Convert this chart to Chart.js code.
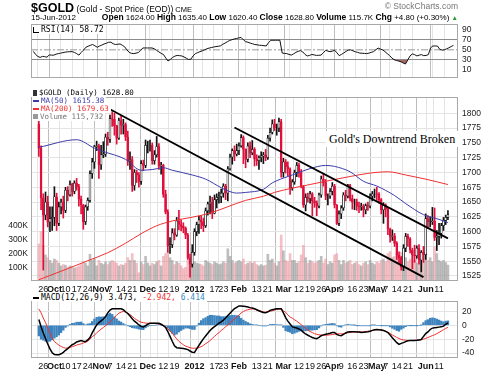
<!DOCTYPE html>
<html><head><meta charset="utf-8">
<script src="https://cdn.jsdelivr.net/npm/chart.js@4.4.1/dist/chart.umd.min.js"></script>
<style>
html,body{margin:0;padding:0;background:#fff;}
body{width:489px;height:371px;position:relative;overflow:hidden;font-family:"Liberation Sans",Arial,sans-serif;color:#000;}
.abs{position:absolute;white-space:nowrap;}
canvas{position:absolute;left:0;}
.leg{background:#fff;font-family:"DejaVu Sans Mono",monospace;font-size:7.5px;line-height:8px;padding:0 2px 0 1px;}
.ic{display:inline-block;vertical-align:middle;margin-right:2px;}
</style></head><body>
<canvas id="rsi" width="489" height="73" style="top:14px"></canvas>
<canvas id="price" width="489" height="205" style="top:88px"></canvas>
<canvas id="macd" width="489" height="79" style="top:292px"></canvas>

<div class="abs" style="left:31px;top:0px;line-height:13px;">
  <span style="font-size:12.5px;font-weight:bold">$GOLD</span><span style="font-size:8.5px"> (Gold - Spot Price (EOD))</span><span style="font-size:7.5px"> CME</span>
</div>
<div class="abs" style="right:31px;top:1px;font-size:8.5px;line-height:11px;color:#777">© StockCharts.com</div>
<div class="abs" style="left:31px;top:12px;font-size:8px;line-height:11px">15-Jun-2012</div>
<div class="abs" style="right:31px;top:12px;font-size:8px;line-height:11px"><b style="font-size:8.5px">Open</b> 1624.00 <b style="font-size:8.5px">High</b> 1635.40 <b style="font-size:8.5px">Low</b> 1620.40 <b style="font-size:8.5px">Close</b> 1628.80 <b style="font-size:8.5px">Volume</b> 115.7K <b style="font-size:8.5px">Chg</b> +4.80 (+0.30%) <span style="color:#2a9a2a;font-size:6.5px">▲</span></div>

<div class="abs leg" style="left:32px;top:25px;font-size:8px;line-height:9px;"><span class="ic" style="width:5px;height:5px;border-left:1px solid #000;border-bottom:1px solid #000"></span>RSI(14) 58.72</div>

<div class="abs leg" style="left:32px;top:89px;"><span class="ic" style="width:4px;height:6px;background:#333"></span>$GOLD (Daily) 1628.80</div>
<div class="abs leg" style="left:32px;top:97px;color:#3b3bab"><span class="ic" style="width:6px;height:2px;background:#3b3bab"></span>MA(50) 1615.38</div>
<div class="abs leg" style="left:32px;top:105px;color:#f03030"><span class="ic" style="width:6px;height:2px;background:#f03030"></span>MA(200) 1679.63</div>
<div class="abs leg" style="left:32px;top:113px;color:#777"><span class="ic" style="width:5px;height:5px;background:#999"></span>Volume 115,732</div>

<div class="abs" style="left:326px;top:131px;background:#fff;padding:1px 3px;font-family:'Liberation Serif',serif;font-size:12px;line-height:14px;">Gold's Downtrend Broken</div>

<div class="abs leg" style="left:32px;top:293px;font-size:8px;line-height:9px;"><span class="ic" style="width:6px;height:2px;background:#000"></span>MACD(12,26,9) 3.473, <span style="color:#f03030">-2.942,</span> <span style="color:#3d88c4">6.414</span></div>

<script>
const dates = [
'2011-09-22','2011-09-23','2011-09-26','2011-09-27','2011-09-28','2011-09-29','2011-09-30',
'2011-10-03','2011-10-04','2011-10-05','2011-10-06','2011-10-07','2011-10-10','2011-10-11','2011-10-12','2011-10-13','2011-10-14','2011-10-17','2011-10-18','2011-10-19','2011-10-20','2011-10-21','2011-10-24','2011-10-25','2011-10-26','2011-10-27','2011-10-28','2011-10-31',
'2011-11-01','2011-11-02','2011-11-03','2011-11-04','2011-11-07','2011-11-08','2011-11-09','2011-11-10','2011-11-11','2011-11-14','2011-11-15','2011-11-16','2011-11-17','2011-11-18','2011-11-21','2011-11-22','2011-11-23','2011-11-25','2011-11-28','2011-11-29','2011-11-30',
'2011-12-01','2011-12-02','2011-12-05','2011-12-06','2011-12-07','2011-12-08','2011-12-09','2011-12-12','2011-12-13','2011-12-14','2011-12-15','2011-12-16','2011-12-19','2011-12-20','2011-12-21','2011-12-22','2011-12-23','2011-12-27','2011-12-28','2011-12-29','2011-12-30',
'2012-01-03','2012-01-04','2012-01-05','2012-01-06','2012-01-09','2012-01-10','2012-01-11','2012-01-12','2012-01-13','2012-01-17','2012-01-18','2012-01-19','2012-01-20','2012-01-23','2012-01-24','2012-01-25','2012-01-26','2012-01-27','2012-01-30','2012-01-31',
'2012-02-01','2012-02-02','2012-02-03','2012-02-06','2012-02-07','2012-02-08','2012-02-09','2012-02-10','2012-02-13','2012-02-14','2012-02-15','2012-02-16','2012-02-17','2012-02-21','2012-02-22','2012-02-23','2012-02-24','2012-02-27','2012-02-28','2012-02-29',
'2012-03-01','2012-03-02','2012-03-05','2012-03-06','2012-03-07','2012-03-08','2012-03-09','2012-03-12','2012-03-13','2012-03-14','2012-03-15','2012-03-16','2012-03-19','2012-03-20','2012-03-21','2012-03-22','2012-03-23','2012-03-26','2012-03-27','2012-03-28','2012-03-29','2012-03-30',
'2012-04-02','2012-04-03','2012-04-04','2012-04-05','2012-04-09','2012-04-10','2012-04-11','2012-04-12','2012-04-13','2012-04-16','2012-04-17','2012-04-18','2012-04-19','2012-04-20','2012-04-23','2012-04-24','2012-04-25','2012-04-26','2012-04-27','2012-04-30',
'2012-05-01','2012-05-02','2012-05-03','2012-05-04','2012-05-07','2012-05-08','2012-05-09','2012-05-10','2012-05-11','2012-05-14','2012-05-15','2012-05-16','2012-05-17','2012-05-18','2012-05-21','2012-05-22','2012-05-23','2012-05-24','2012-05-25','2012-05-29','2012-05-30','2012-05-31',
'2012-06-01','2012-06-04','2012-06-05','2012-06-06','2012-06-07','2012-06-08','2012-06-11','2012-06-12','2012-06-13','2012-06-14','2012-06-15'];

const opens = [1782,1741,1657,1628,1650,1616,1622,1624,1659,1614,
1642,1650,1636,1670,1662,1680,1668,1682,1676,1655,
1645,1617,1642,1653,1698,1718,1744,1745,1713,1730,
1731,1760,1756,1791,1790,1779,1758,1788,1780,1781,
1760,1720,1722,1678,1700,1696,1685,1715,1712,1746,
1746,1746,1720,1730,1744,1711,1712,1663,1633,1576,
1578,1598,1594,1618,1612,1609,1606,1594,1555,1545,
1565,1600,1612,1620,1617,1610,1635,1647,1650,1631,
1654,1658,1659,1665,1677,1665,1706,1726,1737,1731,
1737,1745,1759,1739,1722,1745,1733,1739,1723,1720,
1725,1728,1730,1725,1758,1768,1782,1775,1775,1786,
1700,1718,1710,1706,1674,1684,1700,1712,1700,1676,
1645,1658,1656,1664,1652,1648,1643,1662,1689,1683,
1660,1660,1668,1677,1645,1614,1630,1640,1662,1660,
1678,1656,1650,1650,1643,1642,1643,1637,1644,1643,
1660,1664,1664,1663,1654,1637,1645,1638,1604,1592,
1593,1580,1560,1556,1540,1572,1592,1588,1569,1560,
1559,1572,1552,1565,1561,1622,1617,1617,1618,1590,
1592,1597,1610,1619,1624];
const highs = [1790,1745,1664,1667,1660,1642,1642,1676,1665,1650,
1655,1660,1675,1676,1686,1682,1686,1690,1680,1660,
1646,1645,1657,1703,1724,1746,1753,1748,1746,1752,
1765,1768,1797,1803,1800,1780,1792,1795,1790,1784,
1770,1735,1727,1705,1704,1700,1720,1721,1755,1753,
1755,1750,1737,1761,1749,1717,1714,1670,1637,1590,
1605,1605,1624,1636,1620,1615,1608,1597,1562,1578,
1605,1616,1626,1627,1623,1640,1650,1660,1658,1662,
1664,1667,1672,1681,1680,1710,1731,1740,1745,1748,
1750,1764,1762,1740,1750,1752,1754,1742,1730,1728,
1735,1734,1739,1763,1775,1789,1790,1782,1792,1790,
1724,1722,1718,1708,1688,1704,1717,1716,1705,1678,
1664,1665,1668,1666,1658,1652,1665,1694,1697,1688,
1664,1673,1683,1680,1646,1635,1644,1666,1670,1680,
1680,1662,1655,1655,1650,1648,1646,1647,1650,1664,
1668,1672,1675,1666,1656,1649,1647,1640,1606,1603,
1597,1583,1566,1558,1578,1597,1596,1590,1572,1577,
1576,1578,1568,1575,1630,1627,1625,1641,1640,1602,
1614,1614,1624,1628,1635.4];
const lows = [1727,1637,1535,1620,1608,1600,1602,1610,1602,1610,
1630,1623,1632,1652,1660,1660,1664,1670,1643,1630,
1604,1612,1636,1650,1690,1707,1737,1690,1705,1725,
1727,1746,1751,1778,1763,1748,1756,1765,1765,1754,
1712,1705,1668,1670,1683,1675,1680,1703,1708,1733,
1736,1714,1714,1726,1705,1697,1658,1630,1565,1563,
1573,1586,1592,1603,1601,1598,1588,1553,1523,1540,
1560,1593,1597,1605,1600,1607,1628,1630,1622,1630,
1640,1648,1649,1658,1654,1652,1704,1714,1720,1728,
1730,1743,1715,1708,1718,1725,1730,1711,1712,1705,
1718,1715,1720,1722,1753,1765,1771,1763,1769,1692,
1692,1699,1694,1663,1670,1680,1693,1692,1674,1641,
1635,1650,1648,1627,1641,1627,1640,1658,1677,1654,
1645,1656,1662,1640,1612,1610,1622,1636,1652,1657,
1652,1638,1637,1636,1632,1636,1625,1630,1636,1640,
1652,1657,1653,1648,1630,1614,1625,1595,1582,1585,
1575,1553,1546,1535,1534,1566,1575,1564,1537,1548,
1555,1545,1532,1548,1553,1605,1608,1612,1585,1568,
1578,1589,1602,1612,1620.4];
const closes = [1741,1657,1628,1650,1616,1622,1624,1659,1614,1642,
1650,1636,1670,1662,1680,1668,1682,1676,1655,1645,
1617,1642,1653,1698,1718,1744,1745,1713,1730,1731,
1760,1756,1791,1790,1779,1758,1788,1780,1781,1760,
1720,1722,1678,1700,1696,1685,1715,1712,1746,1746,
1746,1720,1730,1744,1711,1712,1663,1633,1576,1578,
1598,1594,1618,1612,1609,1606,1594,1555,1545,1565,
1600,1612,1620,1617,1610,1635,1647,1650,1631,1654,
1658,1659,1665,1677,1665,1706,1726,1737,1731,1737,
1745,1759,1739,1722,1745,1733,1739,1723,1720,1725,
1728,1730,1725,1758,1768,1782,1775,1775,1786,1700,
1718,1710,1706,1674,1684,1700,1712,1700,1676,1645,
1658,1656,1664,1652,1648,1643,1662,1689,1683,1660,
1660,1668,1677,1645,1614,1630,1640,1662,1660,1678,
1656,1650,1650,1643,1642,1643,1637,1644,1643,1660,
1664,1664,1663,1654,1637,1645,1638,1604,1592,1593,
1580,1560,1556,1540,1572,1592,1588,1569,1560,1559,
1572,1552,1565,1561,1622,1617,1617,1618,1590,1592,
1597,1610,1619,1624,1628.8];
const volumesK = [270,360,260,190,170,150,130,160,150,130,
110,120,115,100,110,105,95,100,110,120,
140,130,110,195,150,160,110,150,130,120,
140,120,140,150,140,130,110,120,115,130,
170,150,200,150,130,60,140,120,180,130,
110,130,120,140,150,110,180,200,210,170,
150,120,140,130,110,90,100,150,160,130,
140,130,125,120,110,150,140,130,120,140,
130,120,125,140,130,235,180,150,130,140,
150,140,160,120,130,140,130,140,120,110,
120,110,115,195,150,160,130,110,140,335,
220,150,140,200,150,150,130,140,190,260,
170,130,150,140,130,140,150,180,130,160,
120,140,130,190,200,150,120,150,130,140,
150,120,130,140,120,110,130,140,120,150,
130,120,140,130,150,160,140,200,215,170,
180,200,180,210,190,170,140,160,180,150,
130,170,150,140,250,150,170,140,250,200,
150,140,150,135,115.732];
const rsi = [47,41,37,35,37,36.5,35.5,40,39.5,39.5,
41.5,42.5,43.5,44.5,45.5,46,46.4,46.4,45,42.5,
39.6,45,49.5,55,57,59,60.5,58,55,57.5,
59.3,61.5,63,65,65,62,60.5,61,61.6,59,
56,50,45,43,42.5,43.5,44.7,49,53.7,53.7,
53.7,53.7,53.7,52,49,46,43,40.8,34,28,
31,35,37.5,39,38.5,38,36,33.5,31,31.5,
38,42.5,44.5,46.4,48,50,52,53.5,54.5,55.5,
56.5,57,58,61,63.3,66,68.5,70,71.5,72.5,
73.5,74.5,70,66,65,63.3,62,60.5,60,59,
58.8,58.2,57.6,64,68.9,68.9,68.9,68.9,68.9,43.6,
43,42.5,41,39.6,42,45,47,48.5,46,41,
38,39,40.8,40,39,39.2,39.6,44,49,47.5,
46.4,47.5,49,44,38.5,41,44,47,49.5,50,
48,46.2,45,43.6,43.2,43,42.5,43.5,45,46.4,
50,53.5,51.5,50,46.5,42.5,39,34,30.5,29,
27.8,26.5,24,22,30,38,42,40.5,38,39.5,
40.5,38.5,39,40.5,54,57.6,57.6,57.6,51,49.5,
50,52,54,56.5,58.72];
const macd = [8.4,-2,-11,-19,-27,-34,-39.5,-42,-42.5,-42.5,
-41,-39,-36,-33.5,-30.5,-28,-26.5,-24,-23,-22,
-23,-23.5,-21,-17.5,-11,-5,0.5,4,6.5,9,
12.5,18,22,23.7,23.7,23.7,23.7,23.7,22.5,19.5,
17,13.5,9.5,6,3.5,0.5,-1.5,-2.5,-0.5,1.5,
3,3,3,3,3,1.5,-0.5,-3,-9,-16,
-23,-29.5,-32.2,-32.6,-33,-33.5,-34,-35,-37,-38.8,
-39,-34,-29,-24,-19.5,-15.5,-11.5,-7.5,-4.5,-2,
0.5,3,5,7.5,10.5,14,17.5,21,24,26,
27.9,27.9,27.5,27,26.5,25.5,25,24,22.5,21,
19.5,18.5,18,19.5,21.5,22.5,23.3,23.8,24,24,
18,11,6,2,-2,-3.3,-4,-5.2,-7,-10.2,
-12.5,-14.3,-16,-17.5,-18.5,-19.3,-17.5,-15,-13.8,-13,
-12.3,-11.5,-10.5,-10.5,-13,-14.5,-15,-13,-11,-9.5,
-9.4,-9.4,-9.4,-9.5,-9.8,-10.2,-10,-9.6,-9.4,-8.5,
-7.3,-6.5,-6.1,-6.3,-6.7,-7.5,-8.8,-10.5,-14,-18,
-21.5,-25,-27.5,-26,-25,-23.5,-22.3,-22,-21.9,-21.9,
-21.5,-21,-20.5,-16,-12,-9.5,-6,-4,-3.4,-3,
-2.6,-2.2,-1.2,1.5,3.473];
const signal = [23.7,18,10.5,4,-4,-11,-18.5,-23.5,-26,-28.5,
-30.5,-32,-33,-32.5,-31.8,-30.8,-29.7,-28.5,-27.5,-26.8,
-25.5,-24.3,-23,-20,-16.5,-14,-11,-8.2,-5.5,-3.2,
-0.5,2,4.5,8,11.5,14.5,17.5,19,20,19,
17.5,15.5,13,10,8,6,4.5,3.8,3.2,3,
3,3,3,2.5,2,1.2,-0.5,-2,-5,-8,
-11.5,-15.5,-19.5,-23,-25.7,-28,-30,-31,-32.3,-33,
-33,-33,-32,-30.8,-29,-26.5,-24.5,-22,-19,-16,
-13,-10.5,-7.5,-5,-2,0.5,3.5,6.5,9.5,12,
14.5,17.9,20,21.5,22.5,23.3,23.7,23.3,22,21,
20.2,19.5,19,19.5,20.3,21,22,22.8,23.5,23.5,
21,18.8,15,12,10.2,8,6,3.5,1,-2,
-4.5,-7,-9,-10.5,-12,-13,-13.7,-14,-14.3,-14.3,
-14,-13.7,-13.3,-12.8,-12.4,-12.3,-12.3,-12.3,-11.5,-10.8,
-10.2,-9.8,-9.5,-9.4,-9.4,-9.4,-9.4,-9,-8.6,-8.2,
-7.5,-6.8,-6.1,-6.3,-6.6,-7.2,-8.5,-10,-11.8,-13.8,
-15.8,-17.5,-19,-20.3,-21,-21.5,-21.8,-21.9,-21.8,-21.6,
-21.4,-21,-20.6,-19.9,-18.8,-17.6,-16.2,-14.8,-13.6,-12,
-10.2,-8.3,-6.3,-4.5,-2.942];

const ma50Dates = ['2011-09-22','2011-10-17','2011-10-27','2011-11-02','2011-11-16','2011-11-28','2011-12-05','2011-12-12','2011-12-16','2011-12-30','2012-01-10','2012-01-20','2012-01-25','2012-01-31','2012-02-06','2012-02-16','2012-02-23','2012-03-01','2012-03-07','2012-03-19','2012-03-28','2012-04-03','2012-04-13','2012-04-23','2012-05-01','2012-05-11','2012-05-18','2012-05-31','2012-06-11','2012-06-15'];
const ma50Vals = [1742.5,1755.4,1741.2,1735.6,1722.2,1703.8,1705,1708,1703.8,1695.8,1688.8,1674.3,1669,1665.2,1666.3,1671.6,1682.4,1690.5,1695.8,1706.6,1711.9,1710.3,1701.2,1685.1,1677.1,1661,1647.4,1628.7,1620.7,1615.38];
const ma200Dates = ['2011-09-22','2011-10-11','2011-10-24','2011-11-04','2011-11-16','2011-11-28','2011-12-07','2011-12-16','2011-12-30','2012-01-12','2012-01-25','2012-02-06','2012-02-16','2012-02-24','2012-03-19','2012-04-13','2012-04-25','2012-05-08','2012-05-18','2012-06-01','2012-06-15'];
const ma200Vals = [1518.6,1537.4,1550.8,1564.3,1580.4,1596.5,1609.9,1618,1624.4,1631.3,1642.1,1652.9,1659.8,1666.3,1679.7,1693.2,1698.5,1701.2,1695.8,1688.8,1679.63];

// trend lines: [start date, start price, end date, end price]
const trendLower = ['2011-11-07',1807,'2012-05-31',1523];
const trendUpper = ['2012-01-30',1776,'2012-06-15',1588.6];

const tickDates = ['2011-09-26','2011-10-03','2011-10-10','2011-10-17','2011-10-24','2011-11-01','2011-11-07','2011-11-14','2011-11-21','2011-12-01','2011-12-05','2011-12-12','2011-12-19','2011-12-27','2012-01-03','2012-01-09','2012-01-17','2012-01-23','2012-02-01','2012-02-06','2012-02-13','2012-02-21','2012-03-01','2012-03-05','2012-03-12','2012-03-19','2012-03-26','2012-04-02','2012-04-09','2012-04-16','2012-04-23','2012-05-01','2012-05-07','2012-05-14','2012-05-21','2012-06-01','2012-06-04','2012-06-11'];
const tickLabels = ['26','Oct','10','17','24','Nov','7','14','21','Dec','','12','19','','2012','','17','23','Feb','','13','21','Mar','','12','19','26','Apr','9','16','23','May','7','14','21','Jun','','11'];
const monthTicks = [0,1,0,0,0,1,0,0,0,1,0,0,0,0,1,0,0,0,1,0,0,0,1,0,0,0,0,1,0,0,0,1,0,0,0,1,0,0];

const priceTicks = [1525,1550,1575,1600,1625,1650,1675,1700,1725,1750,1775,1800];
const volTicks = [100000,200000,300000,400000];
const rsiTicks = [10,30,50,70,90];
const macdTicks = [-40,-20,0,20];

// ---------------------------------------------------------------
const idxOf = {}; dates.forEach((d,i)=>idxOf[d]=i);
const tickIdx = tickDates.map(d=>idxOf[d]);
const up = closes.map((c,i)=> i===0 ? false : c >= closes[i-1]);
const RED = '#e0103c';

Chart.defaults.font.family = "'Liberation Sans', Arial, sans-serif";
Chart.defaults.font.size = 9;
Chart.defaults.color = '#000';
Chart.defaults.animation = false;
Chart.defaults.plugins.legend.display = false;
Chart.defaults.plugins.tooltip.enabled = false;
Chart.defaults.responsive = false;
Chart.defaults.devicePixelRatio = 1;

const frame = { id:'frame', afterDraw(c){ const {ctx, chartArea:a}=c; ctx.save(); ctx.strokeStyle='#a8a8a8'; ctx.lineWidth=1;
  ctx.strokeRect(Math.round(a.left)+0.5, Math.round(a.top)+0.5, Math.round(a.right-a.left)-1, Math.round(a.bottom-a.top)-1); ctx.restore(); } };

function xScale(showLabels, h){
  return {
    type:'linear', min:-1, max:186,
    afterBuildTicks: s => { s.ticks = tickIdx.map(v=>({value:v})); },
    afterFit: s => { s.height = h; },
    grid: { color: ctx => monthTicks[ctx.index] ? '#bdbdbd' : '#e4e4e4', drawTicks:false, lineWidth:1 },
    border: { display:false },
    ticks: { display: showLabels, autoSkip:false, maxRotation:0, padding:3, color:'#111',
      font: ctx => ({ size:9, weight: monthTicks[ctx.index] ? 'bold' : 'normal' }),
      callback: (v,i) => tickLabels[i] }
  };
}
function yRight(min, max, ticks, gridColor, fmt){
  return {
    position:'right', min, max,
    afterBuildTicks: s => { s.ticks = ticks.map(v=>({value:v})); },
    afterFit: s => { s.width = 31; },
    grid: { color: gridColor, drawTicks:false },
    border: { display:false },
    ticks: { autoSkip:false, padding:4, font:{size:8.5}, color:'#222', callback: fmt || (v=>String(v)) }
  };
}

// ---- RSI panel (canvas starts 10px above the panel to leave room for labels)
new Chart(document.getElementById('rsi'), {
  type:'line',
  data:{ datasets:[
    { data: rsi.map((v,i)=>({x:i,y:v})), borderColor:'#111', borderWidth:1, pointRadius:0,
      fill:{target:{value:30}, above:'rgba(0,0,0,0)', below:'#a8645e'}, order:1 },
    { data:[{x:-1,y:50},{x:186,y:50}], borderColor:'#999', borderWidth:1, borderDash:[7,2,2,2], pointRadius:0, order:2 }
  ]},
  options:{
    layout:{ padding:{left:31, right:0, top:10, bottom:0} },
    scales:{
      x: xScale(false, 0),
      y: yRight(-5.4, 101, rsiTicks, ctx => (ctx.tick.value===30||ctx.tick.value===70) ? '#8c8c8c' : 'rgba(0,0,0,0)')
    }
  },
  plugins:[frame]
});

// ---- Price panel
const wickData = lows.map((l,i)=>({x:i, y:[l, highs[i]]}));
const bodyData = opens.map((o,i)=>({x:i, y:[o, closes[i]]}));
const candleColor = up.map(u => u ? '#111' : RED);
const bodyFill = opens.map((o,i)=> closes[i] < o ? candleColor[i] : '#fff');
const lineFrom = (ds, vs) => ds.map((d,i)=>({x:idxOf[d], y:vs[i]}));
const trend = t => [{x:idxOf[t[0]], y:t[1]}, {x:idxOf[t[2]], y:t[3]}];

new Chart(document.getElementById('price'), {
  type:'bar',
  data:{ datasets:[
    { type:'line', data: trend(trendLower), borderColor:'#000', borderWidth:1.8, pointRadius:0, yAxisID:'y', order:0 },
    { type:'line', data: trend(trendUpper), borderColor:'#000', borderWidth:1.8, pointRadius:0, yAxisID:'y', order:0 },
    { type:'line', data: lineFrom(ma50Dates, ma50Vals), borderColor:'#3b3bab', borderWidth:1, pointRadius:0, cubicInterpolationMode:'monotone', yAxisID:'y', order:1 },
    { type:'line', data: lineFrom(ma200Dates, ma200Vals), borderColor:'#f03030', borderWidth:1, pointRadius:0, cubicInterpolationMode:'monotone', yAxisID:'y', order:1 },
    { data: bodyData, backgroundColor: bodyFill, borderColor: candleColor, borderWidth:0.7, borderSkipped:false,
      barThickness:2, grouped:false, yAxisID:'y', order:2 },
    { data: wickData, backgroundColor: candleColor, barThickness:1, grouped:false, yAxisID:'y', order:3 },
    { data: volumesK.map((v,i)=>({x:i, y:v*1000})), backgroundColor: up.map(u => u ? 'rgba(150,150,150,0.62)' : 'rgba(232,140,150,0.55)'),
      barThickness:2, grouped:false, yAxisID:'yv', order:10 }
  ]},
  options:{
    layout:{ padding:0 },
    scales:{
      x: xScale(true, 12),
      y: yRight(1516.5, 1827.5, priceTicks, '#e4e4e4'),
      yv: { position:'left', min:0, max:1340000,
        afterBuildTicks: s => { s.ticks = volTicks.map(v=>({value:v})); },
        afterFit: s => { s.width = 31; },
        grid:{ drawOnChartArea:false, drawTicks:false }, border:{display:false},
        ticks:{ autoSkip:false, padding:3, font:{size:8.5}, color:'#222', callback: v => (v/1000)+'K' } }
    }
  },
  plugins:[frame]
});

// ---- MACD panel
const hist = macd.map((m,i)=> m - signal[i]);   // histogram = MACD - signal
new Chart(document.getElementById('macd'), {
  type:'bar',
  data:{ datasets:[
    { type:'line', data: macd.map((v,i)=>({x:i,y:v})), borderColor:'#000', borderWidth:1.5, pointRadius:0, order:0 },
    { type:'line', data: signal.map((v,i)=>({x:i,y:v})), borderColor:'#f03030', borderWidth:1, pointRadius:0, order:1 },
    { data: hist.map((v,i)=>({x:i,y:v})), backgroundColor:'#3d84bf', barThickness:1.7, grouped:false, order:2 }
  ]},
  options:{
    layout:{ padding:{left:31, right:0, top:0, bottom:0} },
    scales:{
      x: xScale(true, 13),
      y: yRight(-47.1, 34.9, macdTicks, '#e4e4e4')
    }
  },
  plugins:[frame]
});
</script>
</body></html>
